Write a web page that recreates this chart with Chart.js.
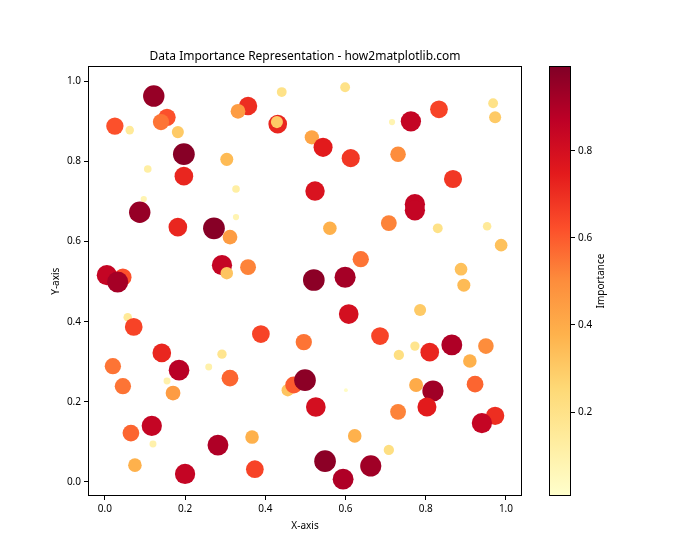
<!DOCTYPE html>
<html>
<head>
<meta charset="utf-8">
<script src="https://cdn.jsdelivr.net/npm/chart.js@4.4.0/dist/chart.umd.min.js"></script>
<style>
  body { margin: 0; background: #fff; }
  #wrap { position: relative; width: 700px; height: 560px; }
  #mainChart { position: absolute; left: 0; top: 0; }
  #cbChart { position: absolute; left: 540px; top: 0; }
</style>
</head>
<body>
<div id="wrap">
  <canvas id="mainChart" width="540" height="560"></canvas>
  <canvas id="cbChart" width="100" height="560"></canvas>
</div>
<script>
var xVals = [0.122, 0.357, 0.332, 0.441, 0.155, 0.140, 0.025, 0.062, 0.182, 0.431,
  0.429, 0.516, 0.197, 0.304, 0.107, 0.197, 0.327, 0.097, 0.087, 0.327,
  0.182, 0.272, 0.312, 0.292, 0.357, 0.304, 0.005, 0.045, 0.032, 0.599,
  0.968, 0.973, 0.833, 0.763, 0.716, 0.544, 0.613, 0.731, 0.868, 0.524,
  0.773, 0.773, 0.561, 0.708, 0.830, 0.953, 0.988, 0.638, 0.888, 0.521,
  0.599, 0.895, 0.057, 0.072, 0.142, 0.185, 0.389, 0.292, 0.259, 0.312,
  0.496, 0.020, 0.045, 0.155, 0.170, 0.456, 0.471, 0.499, 0.117, 0.065,
  0.120, 0.282, 0.367, 0.075, 0.200, 0.374, 0.608, 0.786, 0.686, 0.733,
  0.773, 0.810, 0.865, 0.950, 0.910, 0.923, 0.601, 0.776, 0.818, 0.803,
  0.526, 0.731, 0.973, 0.940, 0.623, 0.708, 0.549, 0.663, 0.594];
var yVals = [0.963, 0.938, 0.925, 0.973, 0.910, 0.898, 0.888, 0.878, 0.873, 0.893,
  0.898, 0.860, 0.818, 0.805, 0.781, 0.763, 0.731, 0.706, 0.673, 0.661,
  0.636, 0.633, 0.611, 0.541, 0.536, 0.521, 0.516, 0.511, 0.499, 0.985,
  0.945, 0.910, 0.930, 0.900, 0.898, 0.835, 0.808, 0.818, 0.756, 0.726,
  0.693, 0.678, 0.633, 0.646, 0.633, 0.638, 0.591, 0.556, 0.531, 0.504,
  0.511, 0.491, 0.411, 0.387, 0.322, 0.279, 0.369, 0.319, 0.287, 0.259,
  0.349, 0.289, 0.239, 0.252, 0.222, 0.229, 0.242, 0.254, 0.140, 0.122,
  0.095, 0.092, 0.112, 0.042, 0.020, 0.032, 0.419, 0.429, 0.364, 0.317,
  0.339, 0.324, 0.342, 0.339, 0.302, 0.244, 0.229, 0.242, 0.227, 0.187,
  0.187, 0.175, 0.165, 0.147, 0.115, 0.080, 0.052, 0.040, 0.007];
var importance = [0.95, 0.70, 0.45, 0.20, 0.62, 0.55, 0.62, 0.15, 0.30, 0.72,
  0.30, 0.42, 0.98, 0.35, 0.12, 0.72, 0.12, 0.08, 0.95, 0.08,
  0.72, 0.98, 0.45, 0.85, 0.52, 0.32, 0.85, 0.62, 0.92, 0.20,
  0.20, 0.30, 0.65, 0.85, 0.08, 0.75, 0.68, 0.50, 0.68, 0.78,
  0.85, 0.85, 0.38, 0.52, 0.20, 0.15, 0.33, 0.55, 0.33, 0.97,
  0.92, 0.35, 0.15, 0.65, 0.72, 0.88, 0.65, 0.18, 0.10, 0.58,
  0.55, 0.55, 0.55, 0.10, 0.45, 0.32, 0.60, 0.97, 0.85, 0.58,
  0.10, 0.90, 0.38, 0.38, 0.85, 0.65, 0.80, 0.30, 0.65, 0.22,
  0.18, 0.72, 0.90, 0.50, 0.38, 0.58, 0.03, 0.40, 0.93, 0.75,
  0.80, 0.52, 0.70, 0.85, 0.38, 0.22, 0.97, 0.93, 0.90];
var axisTicks = [0, 0.2, 0.4, 0.6, 0.8, 1.0];
var cbTicks = [0.2, 0.4, 0.6, 0.8];
var vmin = 0.007, vmax = 0.995;

var FONT = "'Noto Sans', 'DejaVu Sans', sans-serif";
var ylorrd = ['#ffffcc', '#ffeda0', '#fed976', '#feb24c', '#fd8d3c', '#fc4e2a', '#e31a1c', '#bd0026', '#800026'];

function hexRgb(h) {
  return [parseInt(h.substr(1, 2), 16), parseInt(h.substr(3, 2), 16), parseInt(h.substr(5, 2), 16)];
}
function cmap(v) {
  var t = (v - vmin) / (vmax - vmin);
  t = Math.max(0, Math.min(1, t));
  var p = t * (ylorrd.length - 1);
  var i = Math.min(Math.floor(p), ylorrd.length - 2);
  var f = p - i;
  var a = hexRgb(ylorrd[i]), b = hexRgb(ylorrd[i + 1]);
  var c = a.map(function (x, k) { return Math.round(x + (b[k] - x) * f); });
  return 'rgb(' + c.join(',') + ')';
}

var points = [];
for (var i = 0; i < xVals.length; i++) {
  points.push({ x: xVals[i], y: yVals[i] });
}

var frame = {
  id: 'frame',
  afterDraw: function (chart) {
    var a = chart.chartArea, c = chart.ctx;
    c.save();
    c.strokeStyle = '#000';
    c.lineWidth = 1;
    c.strokeRect(Math.round(a.left) + 0.5, Math.round(a.top) + 0.5,
      Math.round(a.right - a.left) - 1, Math.round(a.bottom - a.top) - 1);
    c.restore();
  }
};

new Chart(document.getElementById('mainChart').getContext('2d'), {
  type: 'scatter',
  data: {
    datasets: [{
      data: points,
      backgroundColor: importance.map(cmap),
      borderWidth: 0,
      pointRadius: importance.map(function (v) { return 11 * Math.sqrt(v); }),
      pointHoverRadius: importance.map(function (v) { return 11 * Math.sqrt(v); })
    }]
  },
  options: {
    responsive: false,
    animation: false,
    devicePixelRatio: 1,
    layout: { padding: { top: 42, right: 18, bottom: 0, left: 0 } },
    plugins: {
      legend: { display: false },
      tooltip: { enabled: false },
      title: {
        display: true,
        fullSize: false,
        text: 'Data Importance Representation - how2matplotlib.com',
        color: '#000',
        font: { family: FONT, size: 12, weight: 'normal' },
        padding: { top: 7, bottom: 3 }
      }
    },
    scales: {
      x: {
        type: 'linear',
        min: -0.042, max: 1.04,
        afterBuildTicks: function (s) { s.ticks = axisTicks.map(function (v) { return { value: v }; }); },
        afterFit: function (s) { s.height = 64; },
        ticks: { color: '#000', font: { family: FONT, size: 10 }, padding: 3, maxRotation: 0,
          callback: function (v) { return v.toFixed(1); } },
        grid: { drawOnChartArea: false, tickLength: 4, color: '#000' },
        border: { display: false },
        title: { display: true, text: 'X-axis', color: '#000', font: { family: FONT, size: 10 },
          padding: { top: 0, bottom: 28 } }
      },
      y: {
        type: 'linear',
        min: -0.035, max: 1.037,
        afterBuildTicks: function (s) { s.ticks = axisTicks.map(function (v) { return { value: v }; }); },
        afterFit: function (s) { s.width = 88; },
        ticks: { color: '#000', font: { family: FONT, size: 10 }, padding: 3,
          callback: function (v) { return v.toFixed(1); } },
        grid: { drawOnChartArea: false, tickLength: 4, color: '#000' },
        border: { display: false },
        title: { display: true, text: 'Y-axis', color: '#000', font: { family: FONT, size: 10 },
          padding: { top: 50, bottom: 0 } }
      }
    }
  },
  plugins: [frame]
});

var colorBar = {
  id: 'colorBar',
  beforeDatasetsDraw: function (chart) {
    var a = chart.chartArea, c = chart.ctx;
    var g = c.createLinearGradient(0, a.bottom, 0, a.top);
    ylorrd.forEach(function (col, k) { g.addColorStop(k / (ylorrd.length - 1), col); });
    c.save();
    c.fillStyle = g;
    c.fillRect(a.left, a.top, a.right - a.left, a.bottom - a.top);
    c.restore();
  },
  afterDraw: function (chart) {
    var a = chart.chartArea, c = chart.ctx;
    c.save();
    c.strokeStyle = '#000';
    c.lineWidth = 1;
    c.strokeRect(Math.round(a.left) + 0.5, Math.round(a.top) + 0.5,
      Math.round(a.right - a.left) - 1, Math.round(a.bottom - a.top) - 1);
    c.translate(61, (a.top + a.bottom) / 2);
    c.rotate(-Math.PI / 2);
    c.fillStyle = '#000';
    c.font = '10px ' + FONT;
    c.textAlign = 'center';
    c.textBaseline = 'middle';
    c.fillText('Importance', 0, 0);
    c.restore();
  }
};

new Chart(document.getElementById('cbChart').getContext('2d'), {
  type: 'scatter',
  data: { datasets: [{ data: [] }] },
  options: {
    responsive: false,
    animation: false,
    devicePixelRatio: 1,
    layout: { padding: { top: 66, right: 0, bottom: 64, left: 9 } },
    plugins: { legend: { display: false }, tooltip: { enabled: false } },
    scales: {
      x: { display: false, min: 0, max: 1 },
      y: {
        type: 'linear',
        position: 'right',
        min: vmin, max: vmax,
        afterBuildTicks: function (s) { s.ticks = cbTicks.map(function (v) { return { value: v }; }); },
        afterFit: function (s) { s.width = 69; },
        ticks: { color: '#000', font: { family: FONT, size: 10 }, padding: 3,
          callback: function (v) { return v.toFixed(1); } },
        grid: { drawOnChartArea: false, tickLength: 4, color: '#000' },
        border: { display: false }
      }
    }
  },
  plugins: [colorBar]
});
</script>
</body>
</html>
